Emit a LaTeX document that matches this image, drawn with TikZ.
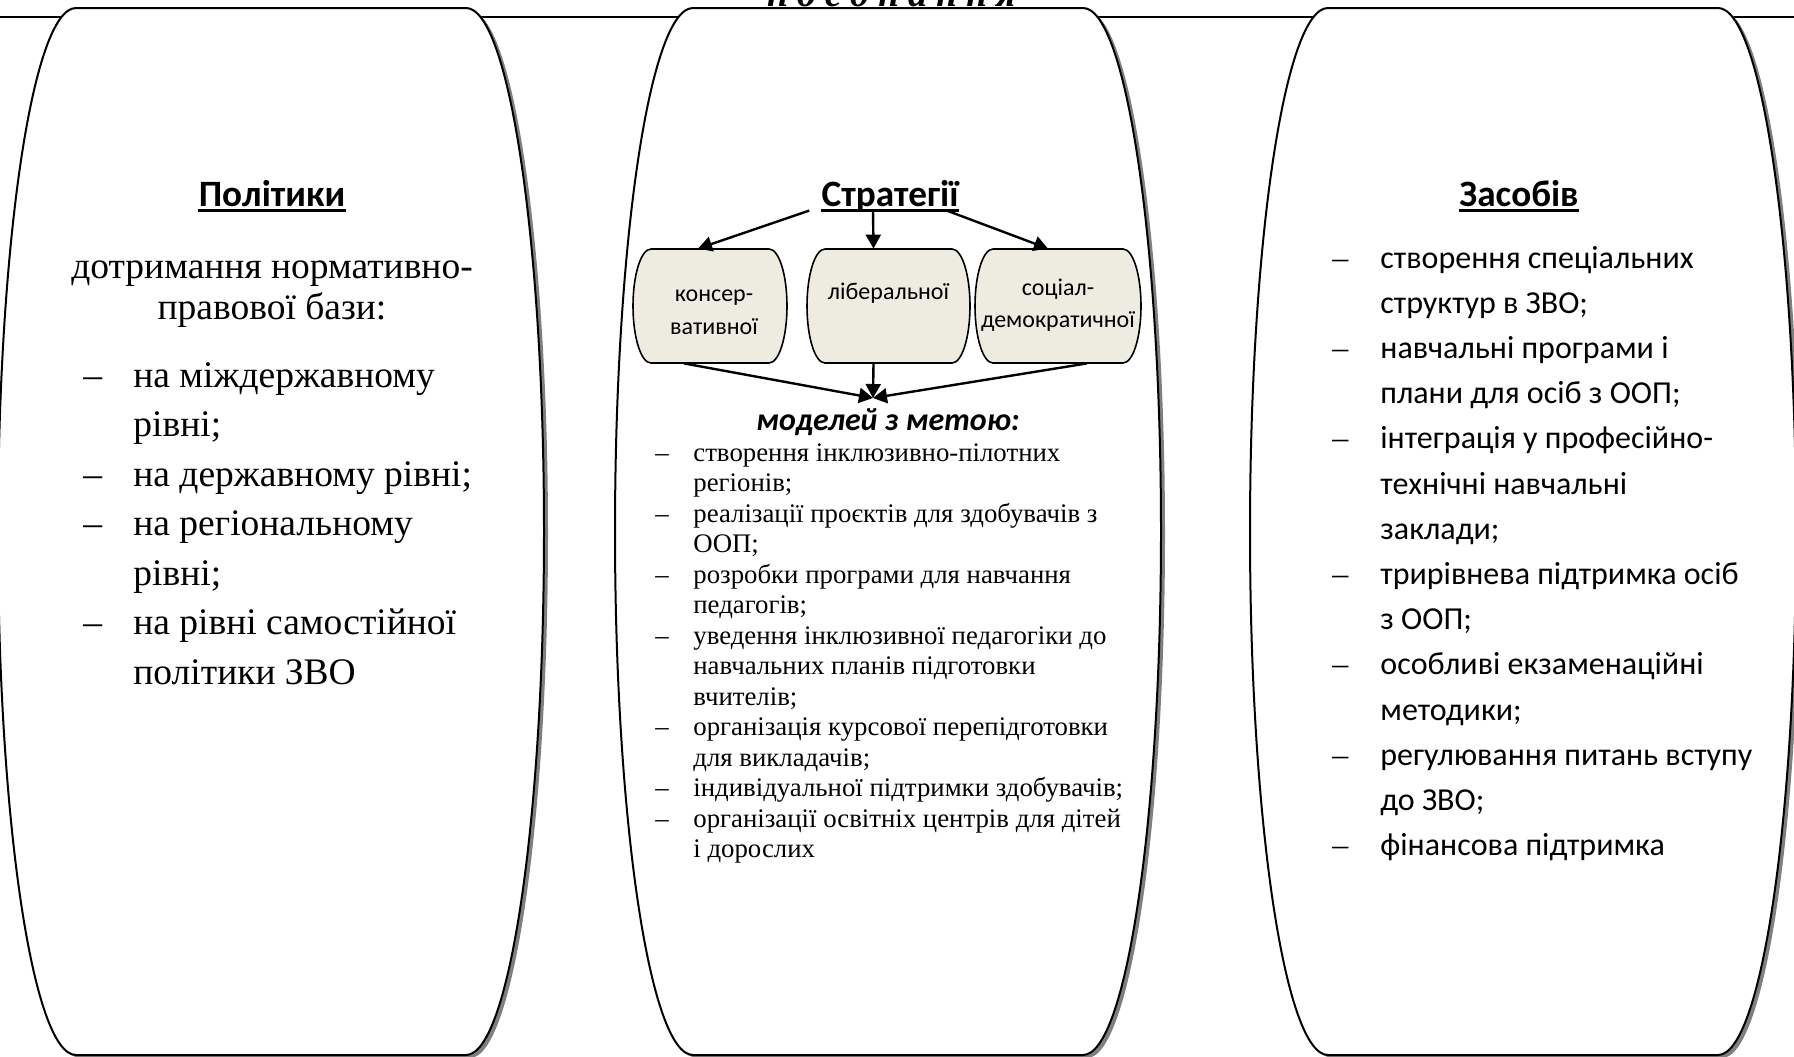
\documentclass[tikz,border=0pt]{standalone}
\usepackage{fontspec}
\setmainfont{Liberation Serif}
\newfontfamily\calfont{Carlito}
\usetikzlibrary{arrows.meta}
\definecolor{pillfill}{HTML}{EEECE1}
\definecolor{shadowgray}{HTML}{7F7F7F}

% terminator-like outline: centre x, top y, bottom y, half width of the flat edge, cap radius
\newcommand{\termpath}[5]{({#1-#4},#2) -- ({#1+#4},#2)
 .. controls ({#1+#4+0.5523*#5},#2) and ({#1+#4+#5},{(#2+#3)/2-0.5523*(#3-#2)/2}) .. ({#1+#4+#5},{(#2+#3)/2})
 .. controls ({#1+#4+#5},{(#2+#3)/2+0.5523*(#3-#2)/2}) and ({#1+#4+0.5523*#5},#3) .. ({#1+#4},#3)
 -- ({#1-#4},#3)
 .. controls ({#1-#4-0.5523*#5},#3) and ({#1-#4-#5},{(#2+#3)/2+0.5523*(#3-#2)/2}) .. ({#1-#4-#5},{(#2+#3)/2})
 .. controls ({#1-#4-#5},{(#2+#3)/2-0.5523*(#3-#2)/2}) and ({#1-#4-0.5523*#5},#2) .. ({#1-#4},#2) -- cycle}
\newcommand{\lsp}{\hspace{4.5pt}}
\newcommand{\rdash}{{\rmfamily –}}

\begin{document}
\begin{tikzpicture}[x=0.5pt,y=-0.5pt,
  head/.style={font=\calfont\bfseries\fontsize{18.6}{22}\selectfont, inner sep=0pt, anchor=base},
  uline/.style={line width=1.5pt},
  bigshape/.style={draw=black, line width=1pt, fill=white},
  shade/.style={fill=shadowgray},
  pill/.style={draw=black, line width=0.8pt, fill=pillfill},
  arr/.style={line width=1.2pt, -{Triangle[length=7pt,width=7.5pt]}},
  pilltext/.style={font=\calfont\fontsize{12}{16.5}\selectfont, inner sep=0pt, anchor=base},
  leftcol/.style={font=\fontsize{18.75}{24.75}\selectfont, inner sep=0pt},
  midcol/.style={font=\fontsize{13.4}{15.25}\selectfont, inner sep=0pt},
  rightcol/.style={font=\calfont\fontsize{16}{22.6}\selectfont, inner sep=0pt},
]
\useasboundingbox (0,0) rectangle (1794,1056);

% heading line running above the three panels
\node[anchor=base, inner sep=0pt, font=\bfseries\itshape\fontsize{19}{22}\selectfont] (toptitle) at (892,6)
  {п\lsp о\lsp є\lsp д\lsp н\lsp а\lsp н\lsp н\lsp я};
\draw[line width=1pt] (0,17) -- (1794,17);

% panel shadows
\begin{scope}[shift={(4,3)}]
  \fill[shade] \termpath{271}{8}{1055}{195}{78};
  \fill[shade] \termpath{888}{8}{1055}{195}{78};
  \fill[shade] \termpath{1523}{8}{1055}{195}{78};
\end{scope}
% panels
\draw[bigshape] \termpath{271}{8}{1055}{195}{78};
\draw[bigshape] \termpath{888}{8}{1055}{195}{78};
\draw[bigshape] \termpath{1523}{8}{1055}{195}{78};

% ---- left panel: policies
\node[head] (pol) at (272,206) {Політики};
\draw[uline] ([yshift=-2.3pt]pol.base west) -- ([yshift=-2.3pt]pol.base east);
\node[leftcol, anchor=base, font=\fontsize{18.75}{20.5}\selectfont] (polintro) at (272,278)
  {\begin{tabular}[t]{@{}c@{}}дотримання нормативно-\\правової бази:\end{tabular}};
\node[leftcol, anchor=base west] (pollist) at (83,387)
  {\begin{tabular}[t]{@{}p{25pt}@{}l@{}}
  –& на міждержавному\\
   & рівні;\\
  –& на державному рівні;\\
  –& на регіональному\\
   & рівні;\\
  –& на рівні самостійної\\
   & політики ЗВО
  \end{tabular}};

% ---- middle panel: strategies
\node[head] (strat) at (890,206) {Стратегії};
\draw[uline] ([yshift=-2.3pt]strat.base west) -- ([yshift=-2.3pt]strat.base east);

\node[inner sep=0pt, minimum width=77pt, minimum height=57pt] (b1) at (710,306) {};
\node[inner sep=0pt, minimum width=81.5pt, minimum height=57pt] (b2) at (888.5,306) {};
\node[inner sep=0pt, minimum width=83pt, minimum height=57pt] (b3) at (1058,306) {};
\draw[pill] \termpath{710}{249}{363}{59}{18};
\draw[pill] \termpath{888.5}{249}{363}{63.5}{18};
\draw[pill] \termpath{1058}{249}{363}{65}{18};

\node[pilltext] (t1a) at (714,301) {консер-};
\node[pilltext] (t1b) at (714,334) {вативної};
\node[pilltext] (t2) at (888.5,299) {ліберальної};
\node[pilltext] (t3a) at (1058,295) {соціал-};
\node[pilltext] (t3b) at (1058,327) {демократичної};

\draw[arr] ([xshift=-6pt,yshift=-2.3pt]strat.base west) -- ([xshift=-6pt]b1.north);
\draw[arr] ([xshift=-8.5pt,yshift=-2.3pt]strat.base) -- ([xshift=-7.5pt]b2.north);
\draw[arr] ([xshift=-6pt,yshift=-2.3pt]strat.base east) -- ([xshift=-5pt]b3.north);

\coordinate (meet) at (873,398);
\draw[arr] ([xshift=-13pt]b1.south) -- (meet);
\draw[arr] ([xshift=-7.5pt]b2.south) -- (meet);
\draw[arr] ([xshift=14.5pt]b3.south) -- (meet);

\node[anchor=base, inner sep=0pt, font=\calfont\bfseries\itshape\fontsize{16}{20}\selectfont] (models) at (888,430) {моделей з метою:};
\node[midcol, anchor=base west] (modlist) at (655,461)
  {\begin{tabular}[t]{@{}p{19pt}@{}l@{}}
  –& створення інклюзивно-пілотних\\
   & регіонів;\\
  –& реалізації проєктів для здобувачів з\\
   & ООП;\\
  –& розробки програми для навчання\\
   & педагогів;\\
  –& уведення інклюзивної педагогіки до\\
   & навчальних планів підготовки\\
   & вчителів;\\
  –& організація курсової перепідготовки\\
   & для викладачів;\\
  –& індивідуальної підтримки здобувачів;\\
  –& організації освітніх центрів для дітей\\
   & і дорослих
  \end{tabular}};

% ---- right panel: means
\node[head] (means) at (1519,206) {Засобів};
\draw[uline] ([yshift=-2.3pt]means.base west) -- ([yshift=-2.3pt]means.base east);
\node[rightcol, anchor=base west] (meanlist) at (1332,268)
  {\begin{tabular}[t]{@{}p{24pt}@{}l@{}}
  \rdash& створення спеціальних\\
   & структур в ЗВО;\\
  \rdash& навчальні програми і\\
   & плани для осіб з ООП;\\
  \rdash& інтеграція у професійно-\\
   & технічні навчальні\\
   & заклади;\\
  \rdash& трирівнева підтримка осіб\\
   & з ООП;\\
  \rdash& особливі екзаменаційні\\
   & методики;\\
  \rdash& регулювання питань вступу\\
   & до ЗВО;\\
  \rdash& фінансова підтримка
  \end{tabular}};
\end{tikzpicture}
\end{document}
